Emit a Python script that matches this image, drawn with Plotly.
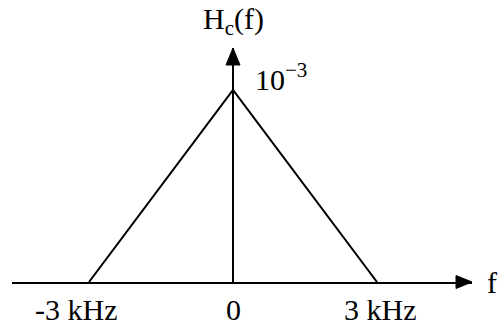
import plotly.graph_objects as go

# data
freq_khz = [-3, 0, 3]
h_vals = [0, 1, 0]          # in units of 1e-3
tick_vals = [-3, 0, 3]
tick_text = ["-3 kHz", "0", "3 kHz"]

FONT = "Liberation Serif, Times New Roman, serif"
FS = 30
BLACK = "#000000"

W, H = 498, 327
ml, mr, mt, mb = 12, 26, 48, 45
pw, ph = W - ml - mr, H - mt - mb
px_per_khz = 48.0
px_per_unit = 192.0
x0 = -(233 - ml) / px_per_khz
x1 = x0 + pw / px_per_khz
y1 = ph / px_per_unit

fig = go.Figure()
fig.add_trace(go.Scatter(x=freq_khz, y=h_vals, mode="lines",
                         line=dict(color=BLACK, width=2), hoverinfo="skip",
                         showlegend=False))

# horizontal arrowhead (paper coords)
aw, ah = 16 / pw, 6.5 / ph
fig.add_shape(type="path", xref="paper", yref="paper",
              path=f"M {1-aw},{-ah} L 1,0 L {1-aw},{ah} Z",
              fillcolor=BLACK, line=dict(color=BLACK, width=1))
# vertical arrowhead
vw, vh = 7 / px_per_khz, 17 / ph
fig.add_shape(type="path", xref="x", yref="paper",
              path=f"M {-vw},{1-vh} L 0,1 L {vw},{1-vh} Z",
              fillcolor=BLACK, line=dict(color=BLACK, width=1))

ann = []
shifts = [-13, 0, 3]
for v, t, s in zip(tick_vals, tick_text, shifts):
    ann.append(dict(x=v, y=0, xref="x", yref="y", text=t, showarrow=False,
                    xanchor="center", yanchor="middle", xshift=s, yshift=-27,
                    font=dict(family=FONT, size=FS, color=BLACK)))
ann.append(dict(x=0, y=1, xref="x", yref="paper", text="H<sub>c</sub>(f)",
                showarrow=False, xanchor="center", yanchor="bottom", yshift=6,
                font=dict(family=FONT, size=FS, color=BLACK)))
ann.append(dict(x=0, y=1, xref="x", yref="y", text="10<sup>−3</sup>",
                showarrow=False, xanchor="left", yanchor="middle", xshift=20, yshift=13,
                font=dict(family=FONT, size=FS, color=BLACK)))
ann.append(dict(x=1, y=0, xref="paper", yref="y", text="f",
                showarrow=False, xanchor="left", yanchor="middle", xshift=13, yshift=0,
                font=dict(family=FONT, size=FS, color=BLACK)))

fig.update_layout(
    width=W, height=H, margin=dict(l=ml, r=mr, t=mt, b=mb),
    paper_bgcolor="white", plot_bgcolor="white",
    showlegend=False, annotations=ann,
    xaxis=dict(range=[x0, x1], showgrid=False, zeroline=True, zerolinecolor=BLACK,
               zerolinewidth=2, showline=True, linecolor=BLACK, linewidth=2,
               showticklabels=False, ticks="", fixedrange=True),
    yaxis=dict(range=[0, y1], showgrid=False, zeroline=False, showline=False,
               showticklabels=False, ticks="", fixedrange=True),
)
fig.write_html("out.html", config={"displayModeBar": False})

with open("out.html", "r", encoding="utf-8") as fh:
    html = fh.read()
html = html.replace("<head>", "<head><style>html,body{margin:0;padding:0;overflow:hidden}</style>", 1)
with open("out.html", "w", encoding="utf-8") as fh:
    fh.write(html)
